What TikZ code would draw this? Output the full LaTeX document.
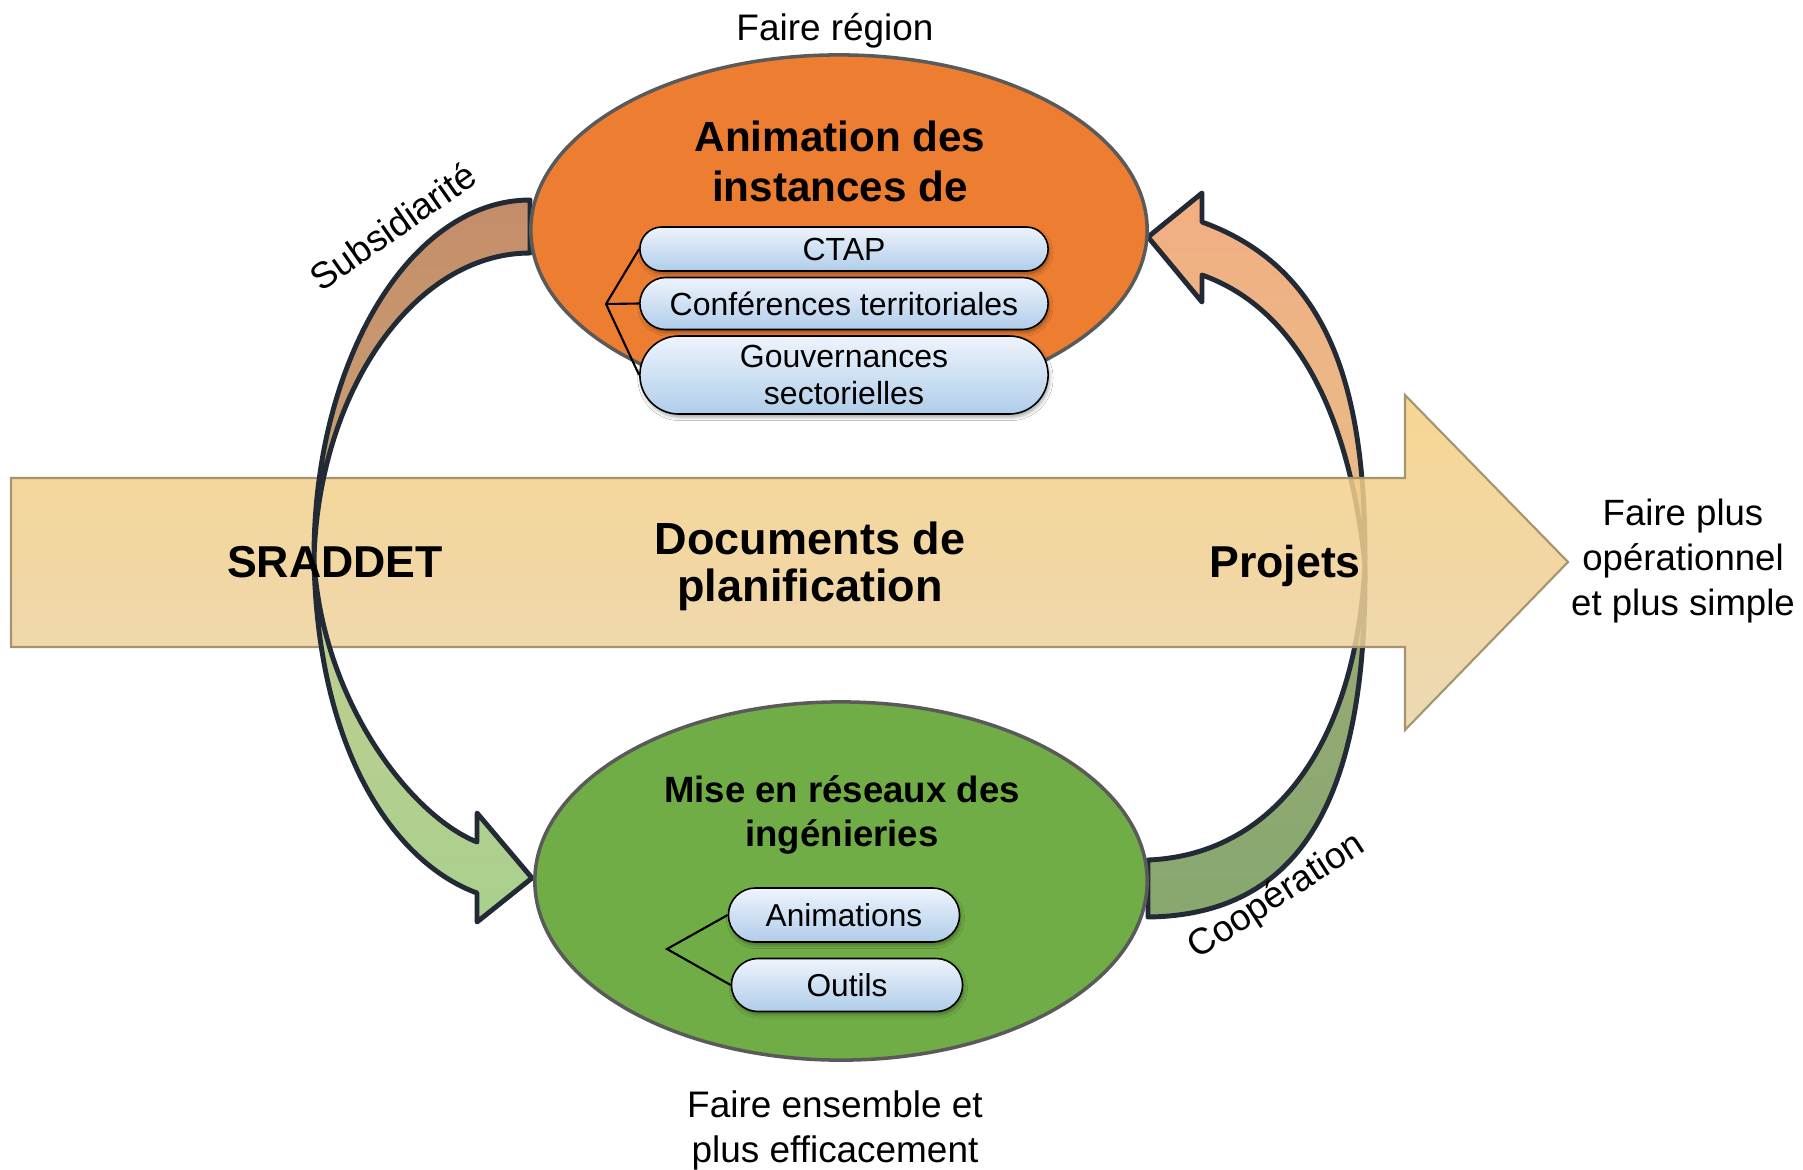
\documentclass[tikz,border=0pt]{standalone}
\usepackage{fontspec}
\setmainfont{Liberation Sans}
\usetikzlibrary{shapes.geometric,shapes.misc,shadows.blur}
\definecolor{orfill}{HTML}{ED7D31}
\definecolor{grfill}{HTML}{70AD47}
\definecolor{elline}{HTML}{5A5A5A}
\definecolor{bandline}{HTML}{222A35}
\definecolor{brtop}{HTML}{C48D69}
\definecolor{brbot}{HTML}{C9A575}
\definecolor{lgtop}{HTML}{C3CD90}
\definecolor{lgbot}{HTML}{A9D08E}
\definecolor{ortop}{HTML}{F2AE82}
\definecolor{orbot}{HTML}{E6BE88}
\definecolor{dgtop}{HTML}{9CA874}
\definecolor{dgbot}{HTML}{87A870}
\definecolor{bigtop}{HTML}{F6CF82}
\definecolor{bigbot}{HTML}{EAD3A6}
\definecolor{arrline}{HTML}{A69470}
\definecolor{pilltop}{HTML}{EEF4FC}
\definecolor{pillbot}{HTML}{B0CDEA}
\begin{document}
\begin{tikzpicture}[x=0.01cm,y=-0.01cm,
  band/.style={draw=bandline, line width=1.4pt, line join=round},
  bubble/.style={ellipse, draw=elline, line width=1pt, inner sep=0pt},
  pill/.style={rounded rectangle, draw=black, line width=0.45pt, top color=pilltop, bottom color=pillbot,
    inner sep=0pt, align=center, font=\fontsize{9.1}{10.6}\selectfont,
    blur shadow={shadow xshift=0.4pt, shadow yshift=-0.9pt, shadow blur radius=1pt, shadow opacity=35}},
  title/.style={align=center, font=\fontsize{12}{14.2}\selectfont\bfseries},
  bigtxt/.style={align=center, font=\fontsize{12.7}{13.4}\selectfont\bfseries},
  lbl/.style={align=center, font=\fontsize{10.5}{12.4}\selectfont},
  brk/.style={draw=black, line width=0.6pt}]
\fill[white] (0,0) rectangle (1803,1169);
\useasboundingbox (0,0) rectangle (1803,1169);

% right curved arrows (behind the big arrow)
\draw[band, top color=ortop, bottom color=orbot]
  (1365,565) .. controls (1366,400) and (1335,270) .. (1202,222)
  -- (1202,193) -- (1148,237) -- (1202,302) -- (1202,275)
  .. controls (1300,310) and (1350,420) .. (1365,565) -- cycle;
\draw[band, top color=dgtop, bottom color=dgbot]
  (1365,565) .. controls (1367,800) and (1300,915) .. (1148,917)
  -- (1148,860) .. controls (1270,855) and (1355,750) .. (1365,565) -- cycle;

% big arrow
\draw[draw=arrline, line width=0.6pt, top color=bigtop, bottom color=bigbot, fill opacity=0.85]
  (11,478) -- (1405,478) -- (1405,395) -- (1568,562) -- (1405,730) -- (1405,647) -- (11,647) -- cycle;

% left curved arrows (above the big arrow)
\draw[band, top color=brtop, bottom color=brbot]
  (530,200) .. controls (410,200) and (313,362) .. (314,560)
  .. controls (318,392) and (414,253) .. (530,253) -- cycle;
\draw[band, top color=lgtop, bottom color=lgbot]
  (314,560) .. controls (318,760) and (400,865) .. (477,893)
  -- (477,922) -- (532,878) -- (477,813) -- (477,842)
  .. controls (410,815) and (322,700) .. (314,560) -- cycle;

% ellipses
\node[bubble, fill=orfill, minimum width=6.16cm, minimum height=3.5cm] (oe) at (839,230) {};
\node[bubble, fill=grfill, minimum width=6.12cm, minimum height=3.58cm] (ge) at (841,881) {};

\node[title] (ot) at (840,161) {Animation des\\instances de};
\node[title, font=\fontsize{10.4}{12.5}\selectfont\bfseries] (gt) at (842,815) {Mise en réseaux des\\ingénieries};

% orange sub-boxes
\coordinate (ob) at (606,304);
\node[pill, minimum width=4.08cm, minimum height=0.44cm] (ctap) at (844,249) {CTAP};
\node[pill, minimum width=4.08cm, minimum height=0.52cm] (conf) at (844,303.5) {Conférences territoriales};
\node[pill, minimum width=4.08cm, minimum height=0.78cm] (gouv) at (844,375) {Gouvernances\\sectorielles};
\draw[brk] (ctap.west) -- (ob) -- (gouv.west);
\draw[brk] (ob) -- (conf.west);

% green sub-boxes
\coordinate (gb) at (667,949);
\node[pill, minimum width=2.31cm, minimum height=0.54cm, font=\fontsize{9}{10}\selectfont] (anim) at (844,915) {Animations};
\node[pill, minimum width=2.31cm, minimum height=0.53cm, font=\fontsize{9}{10}\selectfont] (outils) at (847,985) {Outils};
\draw[brk] (anim.west) -- (gb) -- (outils.west);

% big arrow texts
\node[bigtxt] (sraddet) at (335,562) {SRADDET};
\node[bigtxt, font=\fontsize{12.8}{13.4}\selectfont\bfseries] (docs) at (810,566) {Documents de\\planification};
\node[bigtxt] (projets) at (1285,566) {Projets};

% labels
\node[lbl] (fr) at (835,31) {Faire région};
\node[lbl, font=\fontsize{10.5}{12.8}\selectfont] (fe) at (835,1130) {Faire ensemble et\\plus efficacement};
\node[lbl, font=\fontsize{10.4}{12.8}\selectfont] (fp) at (1683,561) {Faire plus\\opérationnel\\et plus simple};
\node[lbl, rotate=35] (sub) at (393,226) {Subsidiarité};
\node[lbl, rotate=33] (coop) at (1277,897) {Coopération};
\end{tikzpicture}
\end{document}
